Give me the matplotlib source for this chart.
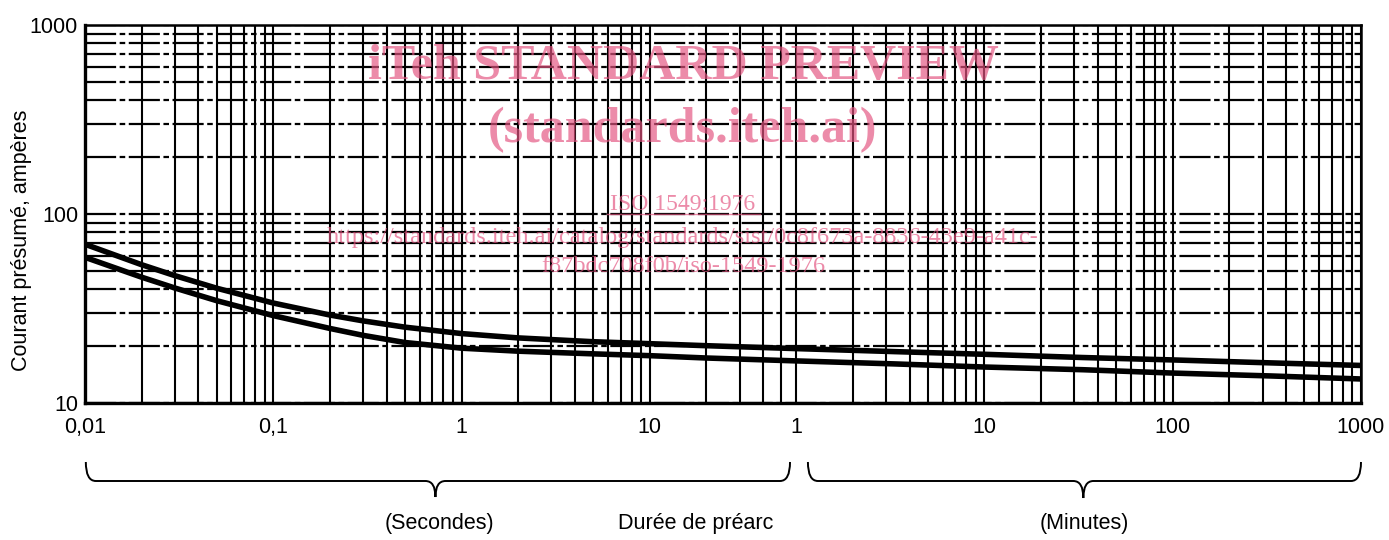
import matplotlib
matplotlib.use("Agg")
import matplotlib.pyplot as plt
from matplotlib.path import Path
from matplotlib.patches import PathPatch
from matplotlib.transforms import IdentityTransform

# ---------------- data ----------------
# prearcing time in seconds (1 min = 60 s)
time_upper_s = [0.01, 0.02, 0.03, 0.05, 0.1, 0.2, 0.3, 0.5, 1, 2,
                5, 10, 20, 60, 200, 600, 2000, 6000, 20000, 60000]
current_upper = [69.2, 53.9, 47.2, 40.5, 33.8, 29.2, 27.2, 25.2, 23.3, 22.1,
                 21.1, 20.6, 20.1, 19.4, 18.7, 18.1, 17.4, 16.9, 16.3, 15.8]

time_lower_s = [0.01, 0.02, 0.03, 0.05, 0.1, 0.2, 0.3, 0.5, 1, 2,
                5, 10, 20, 60, 200, 600, 2000, 6000, 20000, 60000]
current_lower = [59.0, 46.3, 40.6, 34.8, 29.0, 24.8, 22.8, 20.9, 19.5, 18.8,
                 18.2, 17.8, 17.3, 16.7, 16.1, 15.5, 15.0, 14.4, 13.9, 13.4]

xtick_pos_s = [0.01, 0.1, 1, 10, 60, 600, 6000, 60000]
xtick_labels = ["0,01", "0,1", "1", "10", "1", "10", "100", "1000"]
ytick_pos = [10, 100, 1000]
ytick_labels = ["10", "100", "1000"]

ylabel = "Courant présumé, ampères"
sec_label = "(Secondes)"
min_label = "(Minutes)"
xlabel = "Durée de préarc"

wm_title = "iTeh STANDARD PREVIEW"
wm_sub = "(standards.iteh.ai)"
wm_iso = "ISO 1549:1976"
wm_url1 = "https://standards.iteh.ai/catalog/standards/sist/0c8f673a-8836-43e9-a41c-"
wm_url2 = "f87bdc708f0b/iso-1549-1976"

# ---------------- figure ----------------
W, H = 1389, 540
fig = plt.figure(figsize=(W / 100, H / 100), dpi=100)
plt.rcParams['font.family'] = ['Liberation Sans', 'DejaVu Sans']

ax_l, ax_r, ax_t, ax_b = 85, 1361, 25, 403
ax = fig.add_axes([ax_l / W, (H - ax_b) / H, (ax_r - ax_l) / W, (ax_b - ax_t) / H])
ax.set_xscale('log')
ax.set_yscale('log')
ax.set_xlim(0.01, 60000)
ax.set_ylim(10, 1000)

# grid lines: seconds 0.01 .. 50 s, then minutes 1 .. 1000 min
vgrid = []
for dec in [0.01, 0.1, 1, 10]:
    for k in range(1, 10):
        v = k * dec
        if v < 60:
            vgrid.append(v)
for dec in [1, 10, 100]:
    for k in range(1, 10):
        vgrid.append(k * dec * 60)
vgrid.append(60000)
hgrid = [k * d for d in [10, 100] for k in range(1, 10)] + [1000]

for v in vgrid:
    ax.axvline(v, color='black', lw=1.5, zorder=1)
for h in hgrid:
    ax.axhline(h, color='black', lw=1.6, zorder=1,
               linestyle=(0, (14, 1.6, 2.5, 1.6)))

# curves
ax.plot(time_upper_s, current_upper, color='black', lw=4.0, zorder=3,
        solid_capstyle='butt', solid_joinstyle='round')
ax.plot(time_lower_s, current_lower, color='black', lw=4.0, zorder=3,
        solid_capstyle='butt', solid_joinstyle='round')

# ticks
ax.set_xticks(xtick_pos_s)
ax.set_xticklabels(xtick_labels)
ax.xaxis.set_minor_locator(matplotlib.ticker.NullLocator())
ax.set_yticks(ytick_pos)
ax.set_yticklabels(ytick_labels)
ax.yaxis.set_minor_locator(matplotlib.ticker.NullLocator())
ax.tick_params(axis='x', length=0, pad=10, labelsize=15.5)
ax.tick_params(axis='y', length=0, pad=5, labelsize=15.5)

for s in ['left', 'bottom']:
    ax.spines[s].set_linewidth(2.4)
for s in ['top', 'right']:
    ax.spines[s].set_linewidth(1.8)

# y label
fig.text(22 / W, 1 - 240 / H, ylabel, rotation=90, ha='center', va='center',
         fontsize=15.5)

# braces (display coordinates)
def to_px(xval):
    return ax.transData.transform((xval, 10))[0]

def brace(x0, x1, xtip, ytop, ymid, ybot):
    r = 10
    verts = [
        (x0, ytop), (x0, ymid), (x0 + r, ymid),
        (xtip - r, ymid), (xtip, ymid), (xtip, ybot),
        (xtip, ymid), (xtip + r, ymid),
        (x1 - r, ymid), (x1, ymid), (x1, ytop),
    ]
    codes = [Path.MOVETO, Path.CURVE3, Path.CURVE3,
             Path.LINETO, Path.CURVE3, Path.CURVE3,
             Path.CURVE3, Path.CURVE3,
             Path.LINETO, Path.CURVE3, Path.CURVE3]
    verts = [(x, H - y) for x, y in verts]
    p = PathPatch(Path(verts, codes), facecolor='none', edgecolor='black',
                  lw=1.4, transform=IdentityTransform())
    fig.add_artist(p)

brace(to_px(0.0101), to_px(55.6), to_px(0.727), 462, 481, 497)
brace(to_px(69.2), to_px(60000), to_px(2010), 462, 481, 498)

fig.text(439 / W, 1 - 523 / H, sec_label, ha='center', va='center', fontsize=15.5)
fig.text(696 / W, 1 - 523 / H, xlabel, ha='center', va='center', fontsize=15.5)
fig.text(1084 / W, 1 - 523 / H, min_label, ha='center', va='center', fontsize=15.5)

# watermark
wm_col = (0.89, 0.33, 0.50)
wm_a = 0.68
serif = ['Liberation Serif', 'DejaVu Serif']
fig.text(683 / W, 1 - 67 / H, wm_title, ha='center', va='center', fontsize=36,
         fontweight='bold', family=serif, color=wm_col, alpha=wm_a, zorder=5)
fig.text(683 / W, 1 - 130 / H, wm_sub, ha='center', va='center', fontsize=36,
         fontweight='bold', family=serif, color=wm_col, alpha=wm_a, zorder=5)
fig.text(683 / W, 1 - 204 / H, wm_iso, ha='center', va='center', fontsize=17,
         family=serif, color=wm_col, alpha=wm_a, zorder=5)
fig.add_artist(plt.Line2D([607 / W, 760 / W], [1 - 214 / H, 1 - 214 / H],
                          color=wm_col, alpha=wm_a, lw=1.0))
fig.text(683 / W, 1 - 238 / H, wm_url1, ha='center', va='center', fontsize=17.5,
         family=serif, color=wm_col, alpha=wm_a, zorder=5)
fig.text(683 / W, 1 - 266 / H, wm_url2, ha='center', va='center', fontsize=17.5,
         family=serif, color=wm_col, alpha=wm_a, zorder=5)

fig.savefig("out.png", dpi=100)
